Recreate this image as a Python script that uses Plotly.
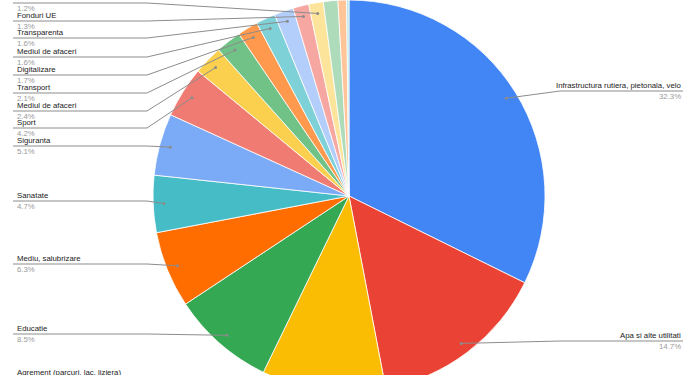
import math
import plotly.graph_objects as go

# ---- data ----
names = [
    "Infrastructura rutiera, pietonala, velo",
    "Apa si alte utilitati",
    "Agrement (parcuri, lac, liziera)",
    "Educatie",
    "Mediu, salubrizare",
    "Sanatate",
    "Siguranta",
    "Sport",
    "Mediul de afaceri",
    "Transport",
    "Digitalizare",
    "Mediul de afaceri",
    "Transparenta",
    "Fonduri UE",
    "Cultura",
    "Turism",
    "Administratie",
    "Altele",
]
values = [32.3, 14.7, 10.2, 8.5, 6.3, 4.7, 5.1, 4.2, 2.4, 2.1, 1.7, 1.6, 1.6, 1.3, 1.2, 1.2, 0.7, 0.2]
colors = ["#4285F4", "#EA4335", "#FBBC04", "#34A853", "#FF6D01", "#46BDC6",
          "#7BAAF7", "#F07B72", "#FCD04F", "#71C287", "#FF994D", "#7ED1D7",
          "#B3CEFB", "#F7A7A1", "#FDE49B", "#AEDCBA", "#FFC599", "#B5E5E8"]

# label line positions (pixels from top); side: R = right, L = left, N = not shown in view
label_side = ["R", "R", "L", "L", "L", "L", "L", "L", "L", "L", "L", "L", "L", "L", "L", "N", "N", "N"]
label_line_y = [91, 341, 378, 334, 264, 201, 146, 128, 111, 93, 75, 57, 38, 21, 3, -15, -33, -51]

# ---- layout geometry ----
W, H = 700, 392
cxp = 349
r = H / 2
dom_x = [(cxp - r) / W, (cxp + r) / W]
cx, cy = (dom_x[0] + dom_x[1]) / 2 * W, H / 2

fig = go.Figure()
fig.add_trace(go.Pie(
    labels=[f"{n} {i}" for i, n in enumerate(names)],
    values=values,
    sort=False,
    direction="clockwise",
    rotation=0,
    textinfo="none",
    hoverinfo="skip",
    marker=dict(colors=colors, line=dict(color="#ffffff", width=0.8)),
    domain=dict(x=dom_x, y=[0, 1]),
    showlegend=False,
))

total = sum(values)
shapes = []
annotations = []
cum = 0.0
name_font = dict(family="Liberation Sans, Arial", size=7.8, color="#222222")
pct_font = dict(family="Liberation Sans, Arial", size=7.8, color="#9a9a9a")
for i, v in enumerate(values):
    mid = (cum + v / 2) / total * 2 * math.pi
    cum += v
    if label_side[i] == "N":
        continue
    dxp = cx + 0.945 * r * math.sin(mid)
    dyp = cy - 0.945 * r * math.cos(mid)
    ly = label_line_y[i]
    pct = f"{v / total * 100:.1f}%"
    if label_side[i] == "L":
        x_start = 13
        bend = min(dxp, 147)
        tx, xa = 15, "left"
    else:
        x_start = 683
        bend = max(dxp, 560)
        tx, xa = 683, "right"
    shapes.append(dict(type="path", xref="x", yref="y",
                       path=f"M {x_start},{ly} L {bend},{ly} L {dxp},{dyp}",
                       line=dict(color="#8c8c8c", width=1)))
    shapes.append(dict(type="circle", xref="x", yref="y",
                       x0=dxp - 1.5, x1=dxp + 1.5, y0=dyp - 1.5, y1=dyp + 1.5,
                       fillcolor="#8c8c8c", line=dict(width=0)))
    annotations.append(dict(x=tx, y=ly - 5.4, xref="x", yref="y", text=names[i],
                            showarrow=False, xanchor=xa, yanchor="middle", font=name_font))
    annotations.append(dict(x=tx, y=ly + 5.4, xref="x", yref="y", text=pct,
                            showarrow=False, xanchor=xa, yanchor="middle", font=pct_font))

fig.update_layout(
    width=W, height=H,
    margin=dict(l=0, r=0, t=0, b=0),
    paper_bgcolor="#ffffff", plot_bgcolor="rgba(0,0,0,0)",
    xaxis=dict(range=[0, W], visible=False, fixedrange=True, domain=[0, 1]),
    yaxis=dict(range=[H, 0], visible=False, fixedrange=True, domain=[0, 1]),
    shapes=shapes,
    annotations=annotations,
    showlegend=False,
)

fig.write_html("out.html")
